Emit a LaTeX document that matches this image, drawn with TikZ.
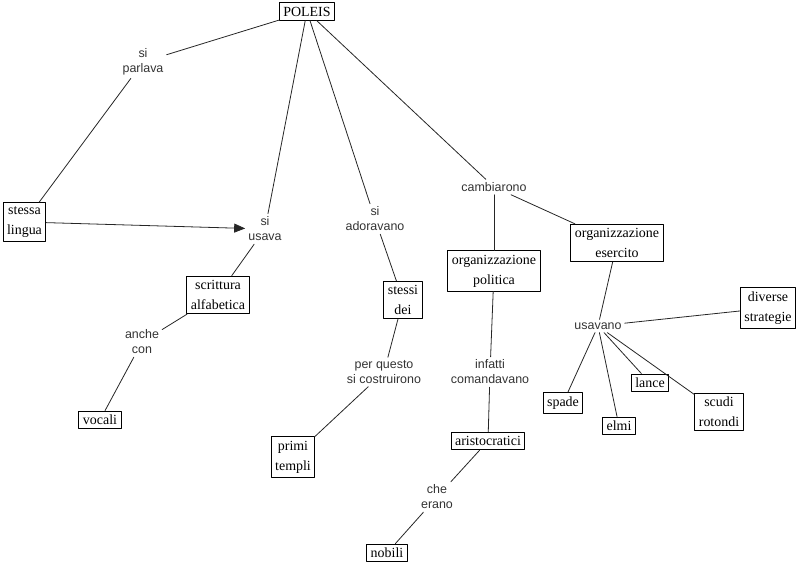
\documentclass[tikz,border=0pt]{standalone}
\usepackage{fontspec}
\setmainfont{Liberation Serif}
\setsansfont{Liberation Sans}
\usetikzlibrary{arrows.meta}
\begin{document}
\begin{tikzpicture}[x=1bp, y=-1bp, line join=round, line cap=round,
    concept/.style={draw, line width=1bp, align=center, font=\fontsize{14}{20}\selectfont, inner xsep=4bp, inner ysep=4bp},
    link/.style={align=center, font=\sffamily\fontsize{12.5}{15}\selectfont, text=black!80, inner sep=3bp},
    rel/.style={draw=black!85, line width=0.8bp}]
    \useasboundingbox (0,0) rectangle (802,565);
    % concetti
    \node[concept] (poleis) at (307,11.5) {POLEIS};
    \node[concept] (lingua) at (24.5,222) {stessa\\lingua};
    \node[concept] (scrittura) at (218,295) {scrittura\\alfabetica};
    \node[concept] (vocali) at (100,420) {vocali};
    \node[concept] (dei) at (403,300) {stessi\\dei};
    \node[concept] (templi) at (293,457) {primi\\templi};
    \node[concept] (politica) at (494,271) {organizzazione\\politica};
    \node[concept] (esercito) at (617,243) {organizzazione\\esercito};
    \node[concept] (aristo) at (488,441) {aristocratici};
    \node[concept] (nobili) at (387,553) {nobili};
    \node[concept] (strategie) at (768,308) {diverse\\strategie};
    \node[concept] (spade) at (563,403) {spade};
    \node[concept] (elmi) at (619,426) {elmi};
    \node[concept] (lance) at (650,383) {lance};
    \node[concept] (scudi) at (719,412) {scudi\\rotondi};
    % parole legame
    \node[link] (parlava) at (143,62) {si\\parlava};
    \node[link] (usava) at (265,229) {si\\usava};
    \node[link] (adoravano) at (375,219) {si\\adoravano};
    \node[link] (cambiarono) at (494,187) {cambiarono};
    \node[link] (anche) at (142,342) {anche\\con};
    \node[link] (questo) at (384,372) {per questo\\si costruirono};
    \node[link] (infatti) at (490,372) {infatti\\comandavano};
    \node[link] (erano) at (437,497) {che\\erano};
    \node[link] (usavano) at (598,326) {usavano};
    % collegamenti
    \foreach \a/\b in {poleis/parlava, parlava/lingua, poleis/usava, usava/scrittura,
        scrittura/anche, anche/vocali, poleis/adoravano, adoravano/dei, dei/questo,
        questo/templi, poleis/cambiarono, cambiarono/politica, cambiarono/esercito,
        politica/infatti, infatti/aristo, aristo/erano, erano/nobili, esercito/usavano,
        usavano/strategie, usavano/spade, usavano/elmi, usavano/lance, usavano/scudi}
        \draw[rel] (\a) -- (\b);
    \draw[rel, -{Triangle[length=11bp, width=9bp]}] (lingua) -- (usava);
\end{tikzpicture}
\end{document}
